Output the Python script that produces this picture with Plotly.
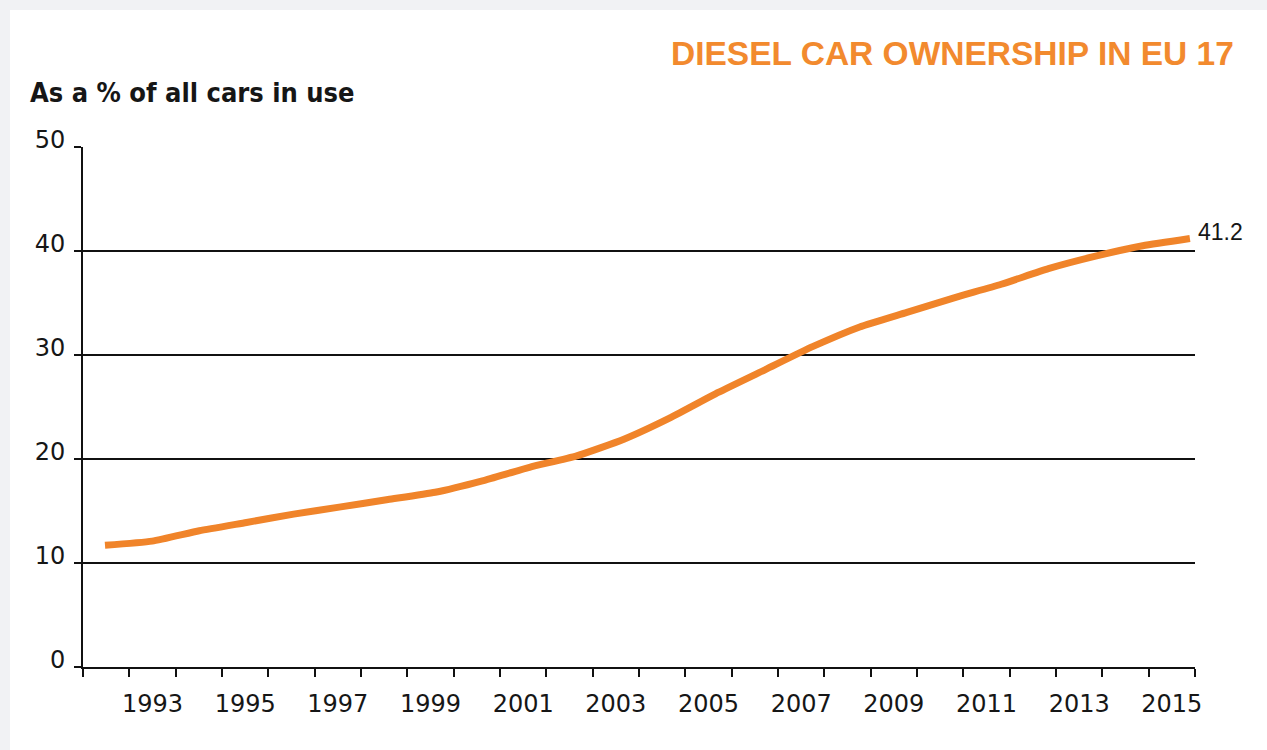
import plotly.graph_objects as go

# ---- data ----
years = list(range(1992, 2016))
share = [11.7, 12.1, 13.1, 13.9, 14.7, 15.4, 16.1, 16.8, 17.9, 19.2, 20.3, 21.9,
         24.0, 26.4, 28.6, 30.8, 32.7, 34.1, 35.5, 36.8, 38.3, 39.5, 40.5, 41.2]
label_years = list(range(1993, 2016, 2))
label_text = [str(y) for y in label_years]
y_ticks = [0, 10, 20, 30, 40, 50]
grid_vals = [10, 20, 30, 40]
boundaries = [y - 0.5 for y in range(1992, 2017)]

title_text = "DIESEL CAR OWNERSHIP IN EU 17"
ylabel_text = "As a % of all cars in use"

ORANGE = "#F0842A"
TXT = "#161616"

fig = go.Figure()
# empty trace so the main (tick) x axis is drawn
fig.add_trace(go.Scatter(
    x=years, y=[None] * len(years), mode="lines", xaxis="x", yaxis="y",
    hoverinfo="skip", showlegend=False,
))
fig.add_trace(go.Scatter(
    x=years, y=share, mode="lines", xaxis="x2", yaxis="y",
    line=dict(color=ORANGE, width=7, shape="spline", smoothing=0.5),
    hoverinfo="x+y", showlegend=False,
))

fig.add_annotation(
    x=years[-1], y=share[-1], xref="x2", yref="y",
    text=f"{share[-1]}", showarrow=False, xanchor="left", yanchor="middle",
    xshift=6, yshift=7,
    font=dict(family="Liberation Sans", size=23, color=TXT),
)

W, H = 1267, 750
L, R, T, B = 83, 72, 147, 83
pw, ph = W - L - R, H - T - B

def px_x(p):
    return (p - L) / pw

def px_y(p):
    return (H - B - p) / ph

# title and axis label
fig.add_annotation(
    x=px_x(1236), y=px_y(54), xref="paper", yref="paper", text=f"<b>{title_text}</b>",
    showarrow=False, xanchor="right", yanchor="middle",
    font=dict(family="Liberation Sans", size=33.5, color="#F28A2E"),
)
fig.add_annotation(
    x=px_x(28), y=px_y(93), xref="paper", yref="paper", text=f"<b>{ylabel_text}</b>",
    showarrow=False, xanchor="left", yanchor="middle",
    font=dict(family="DejaVu Sans Condensed, DejaVu Sans", size=27, color=TXT),
)

# white card over grey page
fig.add_shape(type="rect", xref="paper", yref="paper",
              x0=px_x(10), x1=px_x(W + 5), y0=px_y(H + 5), y1=px_y(10),
              fillcolor="white", line_width=0, layer="below")

fig.update_layout(
    width=W, height=H,
    margin=dict(l=L, r=R, t=T, b=B),
    paper_bgcolor="#F1F2F4",
    plot_bgcolor="rgba(0,0,0,0)",
    font=dict(family="DejaVu Sans", color=TXT),
    xaxis=dict(
        range=[1991.5, 2015.5], tickmode="array", tickvals=label_years, ticktext=label_text,
        ticks="", showgrid=False, zeroline=False,
        showline=True, linecolor="#111", linewidth=2,
        tickfont=dict(family="DejaVu Sans", size=24, color=TXT),
        ticklabelstandoff=14,
        minor=dict(tickmode="array", tickvals=boundaries, ticks="outside", ticklen=8,
                   tickwidth=2, tickcolor="#111", showgrid=False),
    ),
    xaxis2=dict(
        overlaying="x", range=[1991.534, 2015.108], visible=False,
    ),
    yaxis=dict(
        range=[0, 50], tickmode="array", tickvals=y_ticks,
        ticks="outside", ticklen=7, tickwidth=2, tickcolor="#111",
        showgrid=False, zeroline=False,
        showline=True, linecolor="#111", linewidth=2,
        tickfont=dict(family="DejaVu Sans", size=24, color=TXT),
        ticklabelshift=-7, ticklabelstandoff=4,
        minor=dict(tickmode="array", tickvals=grid_vals, ticks="", showgrid=True,
                   gridcolor="#111", gridwidth=1.5),
    ),
)

fig.write_html("out.html")
